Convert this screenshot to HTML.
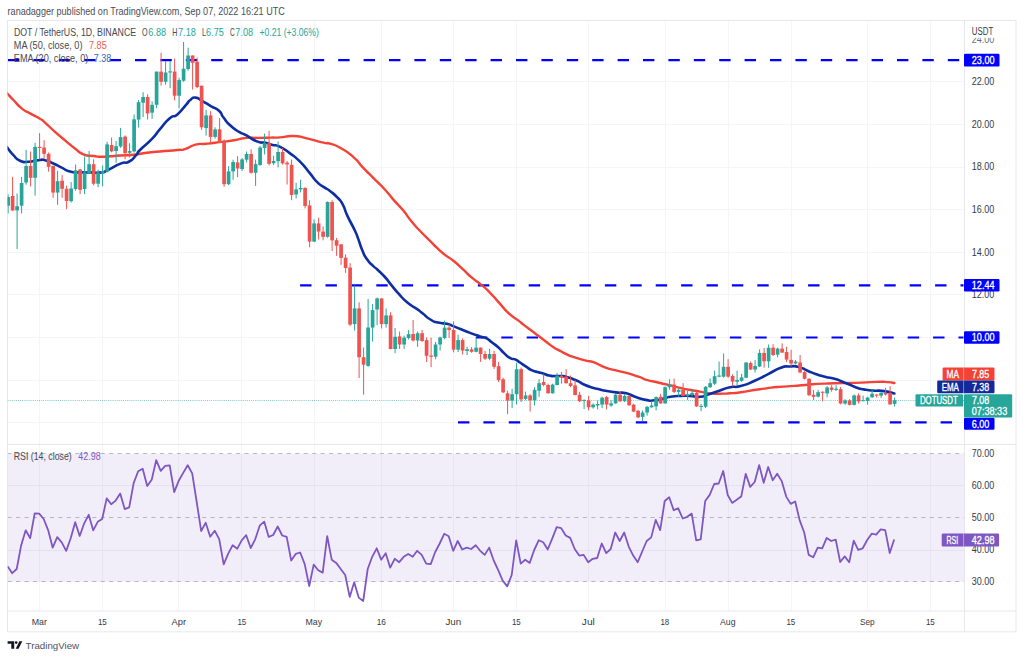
<!DOCTYPE html>
<html><head><meta charset="utf-8"><title>DOT/USDT chart</title>
<style>
html,body{margin:0;padding:0;background:#fff;}
body{width:1024px;height:659px;position:relative;overflow:hidden;font-family:"Liberation Sans",sans-serif;}
</style></head><body>
<svg width="1024" height="659" viewBox="0 0 1024 659" style="position:absolute;left:0;top:0">
<defs><clipPath id="main"><rect x="7.5" y="21" width="956.5" height="422.5"/></clipPath><clipPath id="rsi"><rect x="7.5" y="444.5" width="956.5" height="166"/></clipPath></defs>
<line x1="7.5" y1="81.5" x2="964.5" y2="81.5" stroke="#f4f5f8" stroke-width="1"/>
<line x1="7.5" y1="124.5" x2="964.5" y2="124.5" stroke="#f4f5f8" stroke-width="1"/>
<line x1="7.5" y1="167.5" x2="964.5" y2="167.5" stroke="#f4f5f8" stroke-width="1"/>
<line x1="7.5" y1="209.5" x2="964.5" y2="209.5" stroke="#f4f5f8" stroke-width="1"/>
<line x1="7.5" y1="252.5" x2="964.5" y2="252.5" stroke="#f4f5f8" stroke-width="1"/>
<line x1="7.5" y1="294.5" x2="964.5" y2="294.5" stroke="#f4f5f8" stroke-width="1"/>
<line x1="7.5" y1="337.5" x2="964.5" y2="337.5" stroke="#f4f5f8" stroke-width="1"/>
<line x1="7.5" y1="380.5" x2="964.5" y2="380.5" stroke="#f4f5f8" stroke-width="1"/>
<line x1="7.5" y1="422.5" x2="964.5" y2="422.5" stroke="#f4f5f8" stroke-width="1"/>
<line x1="39.5" y1="20.5" x2="39.5" y2="444" stroke="#f4f5f8" stroke-width="1"/>
<line x1="39.5" y1="444" x2="39.5" y2="610.5" stroke="#f4f5f8" stroke-width="1"/>
<line x1="102.5" y1="20.5" x2="102.5" y2="444" stroke="#f4f5f8" stroke-width="1"/>
<line x1="102.5" y1="444" x2="102.5" y2="610.5" stroke="#f4f5f8" stroke-width="1"/>
<line x1="178.5" y1="20.5" x2="178.5" y2="444" stroke="#f4f5f8" stroke-width="1"/>
<line x1="178.5" y1="444" x2="178.5" y2="610.5" stroke="#f4f5f8" stroke-width="1"/>
<line x1="241.5" y1="20.5" x2="241.5" y2="444" stroke="#f4f5f8" stroke-width="1"/>
<line x1="241.5" y1="444" x2="241.5" y2="610.5" stroke="#f4f5f8" stroke-width="1"/>
<line x1="314.5" y1="20.5" x2="314.5" y2="444" stroke="#f4f5f8" stroke-width="1"/>
<line x1="314.5" y1="444" x2="314.5" y2="610.5" stroke="#f4f5f8" stroke-width="1"/>
<line x1="381.5" y1="20.5" x2="381.5" y2="444" stroke="#f4f5f8" stroke-width="1"/>
<line x1="381.5" y1="444" x2="381.5" y2="610.5" stroke="#f4f5f8" stroke-width="1"/>
<line x1="453.5" y1="20.5" x2="453.5" y2="444" stroke="#f4f5f8" stroke-width="1"/>
<line x1="453.5" y1="444" x2="453.5" y2="610.5" stroke="#f4f5f8" stroke-width="1"/>
<line x1="516.5" y1="20.5" x2="516.5" y2="444" stroke="#f4f5f8" stroke-width="1"/>
<line x1="516.5" y1="444" x2="516.5" y2="610.5" stroke="#f4f5f8" stroke-width="1"/>
<line x1="588.5" y1="20.5" x2="588.5" y2="444" stroke="#f4f5f8" stroke-width="1"/>
<line x1="588.5" y1="444" x2="588.5" y2="610.5" stroke="#f4f5f8" stroke-width="1"/>
<line x1="665.5" y1="20.5" x2="665.5" y2="444" stroke="#f4f5f8" stroke-width="1"/>
<line x1="665.5" y1="444" x2="665.5" y2="610.5" stroke="#f4f5f8" stroke-width="1"/>
<line x1="728.5" y1="20.5" x2="728.5" y2="444" stroke="#f4f5f8" stroke-width="1"/>
<line x1="728.5" y1="444" x2="728.5" y2="610.5" stroke="#f4f5f8" stroke-width="1"/>
<line x1="791.5" y1="20.5" x2="791.5" y2="444" stroke="#f4f5f8" stroke-width="1"/>
<line x1="791.5" y1="444" x2="791.5" y2="610.5" stroke="#f4f5f8" stroke-width="1"/>
<line x1="867.5" y1="20.5" x2="867.5" y2="444" stroke="#f4f5f8" stroke-width="1"/>
<line x1="867.5" y1="444" x2="867.5" y2="610.5" stroke="#f4f5f8" stroke-width="1"/>
<line x1="930.5" y1="20.5" x2="930.5" y2="444" stroke="#f4f5f8" stroke-width="1"/>
<line x1="930.5" y1="444" x2="930.5" y2="610.5" stroke="#f4f5f8" stroke-width="1"/>
<rect x="7.5" y="453.69999999999993" width="957.0" height="128.10000000000002" fill="#7e57c2" fill-opacity="0.1"/>
<line x1="7.5" y1="485.5" x2="964.5" y2="485.5" stroke="#e6e1f0" stroke-width="1"/>
<line x1="7.5" y1="550.5" x2="964.5" y2="550.5" stroke="#e6e1f0" stroke-width="1"/>
<line x1="7.6" y1="453.5" x2="964.5" y2="453.5" stroke="#787b86" stroke-width="1" stroke-dasharray="4.1 4.36" stroke-opacity="0.5"/>
<line x1="7.6" y1="517.5" x2="964.5" y2="517.5" stroke="#787b86" stroke-width="1" stroke-dasharray="4.1 4.36" stroke-opacity="0.5"/>
<line x1="7.6" y1="581.5" x2="964.5" y2="581.5" stroke="#787b86" stroke-width="1" stroke-dasharray="4.1 4.36" stroke-opacity="0.5"/>
<rect x="7.5" y="20.5" width="1008.5" height="611.3" fill="none" stroke="#e6e8ee" stroke-width="1"/>
<line x1="964.5" y1="20.5" x2="964.5" y2="631.8" stroke="#e6e8ee" stroke-width="1"/>
<line x1="7.5" y1="444.5" x2="1016" y2="444.5" stroke="#e6e8ee" stroke-width="1"/>
<line x1="7.5" y1="611.0" x2="1016" y2="611.0" stroke="#e6e8ee" stroke-width="1"/>
<g clip-path="url(#main)">
<line x1="7.5" y1="400.5" x2="964.5" y2="400.5" stroke="#26a69a" stroke-width="1" stroke-dasharray="1 1.1" stroke-opacity="0.6"/>
<line x1="8" y1="60.2" x2="963.5" y2="60.2" stroke="#0000ff" stroke-width="2.2" stroke-dasharray="11.4 14"/>
<line x1="300.1" y1="285.3" x2="963.5" y2="285.3" stroke="#0000ff" stroke-width="2.2" stroke-dasharray="11.4 14"/>
<line x1="475.9" y1="337.5" x2="963.5" y2="337.5" stroke="#0000ff" stroke-width="2.2" stroke-dasharray="11.4 14"/>
<line x1="458" y1="422.4" x2="963.5" y2="422.4" stroke="#0000ff" stroke-width="2.2" stroke-dasharray="11.4 14"/>
<path d="M7.0,93.0 C7.3,93.4 5.9,91.9 8.0,94.2 C10.1,96.5 8.8,95.3 13.4,100.0 C18.0,104.7 16.2,103.9 21.7,108.4 C27.2,112.9 23.9,109.9 30.0,113.4 C36.1,116.9 35.0,115.7 40.0,118.8 C45.0,121.9 40.0,118.3 45.0,122.6 C50.0,126.9 47.7,125.4 55.0,131.8 C62.3,138.2 60.1,136.2 66.8,141.8 C73.5,147.4 69.4,144.3 75.0,148.5 C80.6,152.7 77.3,151.8 83.5,154.3 C89.7,156.8 87.4,155.2 93.5,156.0 C99.6,156.8 96.3,156.7 101.8,156.8 C107.3,156.9 103.9,156.7 110.0,156.3 C116.1,155.9 112.1,156.0 120.0,155.5 C127.9,155.0 124.6,155.7 133.6,154.8 C142.6,153.9 138.2,153.8 147.0,152.7 C155.8,151.6 149.9,152.4 160.0,151.5 C170.1,150.6 169.1,150.8 177.4,150.0 C185.7,149.2 179.0,150.9 185.0,149.1 C191.0,147.3 188.5,146.5 195.5,144.7 C202.5,142.9 197.9,144.7 206.0,143.8 C214.1,142.9 210.6,143.3 219.9,142.1 C229.2,140.9 225.1,141.7 233.9,140.3 C242.7,138.9 238.2,138.7 246.4,137.9 C254.6,137.1 250.5,138.0 258.6,137.9 C266.7,137.8 263.7,137.8 270.8,137.6 C277.9,137.4 272.5,137.9 280.0,137.4 C287.5,136.9 284.5,135.7 293.4,136.0 C302.3,136.3 296.7,136.2 306.7,138.4 C316.7,140.6 315.6,140.9 323.4,142.7 C331.2,144.5 324.2,141.9 330.0,143.7 C335.8,145.5 333.0,143.7 340.9,148.2 C348.8,152.7 346.4,150.9 353.7,157.3 C361.0,163.7 356.1,160.3 362.8,167.3 C369.5,174.3 366.4,171.0 373.7,178.3 C381.0,185.6 377.9,181.9 384.6,189.2 C391.3,196.5 387.7,193.1 393.8,200.1 C399.9,207.1 396.8,202.8 402.9,210.1 C409.0,217.4 405.9,214.7 412.0,222.0 C418.1,229.3 415.1,225.7 421.1,232.0 C427.1,238.3 424.6,235.5 430.0,240.9 C435.4,246.3 432.4,243.6 437.3,248.2 C442.2,252.8 439.1,250.3 444.6,254.6 C450.1,258.9 447.6,256.1 453.7,261.0 C459.8,265.9 456.7,263.6 462.8,269.2 C468.9,274.8 465.8,272.6 471.9,277.7 C478.0,282.8 474.9,279.6 481.0,284.6 C487.1,289.6 484.0,286.7 490.1,292.8 C496.2,298.9 493.1,296.2 499.2,302.9 C505.3,309.6 502.0,307.1 508.3,312.9 C514.6,318.7 513.1,316.4 518.2,320.4 C523.3,324.4 519.4,321.6 523.7,324.9 C528.0,328.2 526.1,326.7 531.0,330.3 C535.9,333.9 533.5,332.2 538.3,335.8 C543.1,339.4 540.7,337.6 545.5,341.2 C550.3,344.8 547.9,343.5 552.8,346.7 C557.7,349.9 555.2,348.3 560.1,350.9 C565.0,353.5 562.5,352.4 567.4,354.6 C572.3,356.8 568.5,355.4 574.7,357.4 C580.9,359.4 580.0,359.1 586.0,360.6 C592.0,362.1 588.1,360.4 592.8,361.9 C597.5,363.4 596.4,363.6 600.0,365.2 C603.6,366.8 599.5,365.3 603.7,366.8 C607.9,368.3 604.9,367.7 612.5,369.7 C620.1,371.7 617.7,370.6 626.4,372.9 C635.1,375.2 631.6,374.3 638.6,376.7 C645.6,379.1 641.6,378.4 647.4,380.2 C653.2,382.0 650.2,380.7 656.1,382.0 C662.0,383.3 660.2,383.1 665.0,384.2 C669.8,385.3 665.2,384.1 670.5,385.4 C675.8,386.7 672.8,386.3 680.9,388.1 C689.0,389.9 687.3,389.3 694.9,390.7 C702.5,392.1 697.8,391.4 703.6,392.4 C709.4,393.4 706.0,393.2 712.4,393.6 C718.8,394.0 716.9,393.7 722.8,393.6 C728.7,393.5 724.0,393.8 730.0,393.3 C736.0,392.8 730.7,393.6 740.7,392.2 C750.7,390.8 747.7,390.9 759.9,389.2 C772.1,387.5 765.7,388.1 777.4,387.0 C789.1,385.9 785.0,386.7 795.0,385.9 C805.0,385.1 797.5,385.5 807.5,384.7 C817.5,383.9 813.3,384.1 824.9,383.6 C836.5,383.1 830.2,383.4 842.4,383.1 C854.6,382.8 849.5,383.0 861.4,382.6 C873.3,382.2 869.1,382.1 878.0,381.9 C886.9,381.7 882.5,381.7 888.0,382.1 C893.5,382.5 892.3,382.7 894.4,383.0" fill="none" stroke="#f44336" stroke-width="2.4" stroke-linejoin="round" stroke-linecap="round"/>
<path d="M7.0,147.0 C7.3,147.5 5.9,145.8 8.0,148.5 C10.1,151.2 9.4,151.1 13.4,155.2 C17.4,159.3 15.0,158.5 20.0,160.7 C25.0,162.9 22.3,162.0 28.4,161.8 C34.5,161.6 32.9,160.7 38.4,160.2 C43.9,159.7 40.0,159.1 45.0,160.2 C50.0,161.3 47.8,161.0 53.4,163.5 C59.0,166.0 56.3,165.0 61.8,167.7 C67.3,170.4 63.8,169.9 70.0,171.5 C76.2,173.1 73.5,172.1 80.5,172.4 C87.5,172.7 84.0,172.4 91.0,172.4 C98.0,172.4 95.6,173.3 101.4,172.4 C107.2,171.5 102.0,172.6 108.4,169.7 C114.8,166.8 113.6,166.3 120.6,163.6 C127.6,160.9 124.1,164.4 129.3,161.5 C134.5,158.6 132.7,158.7 136.3,154.9 C139.9,151.1 135.0,155.1 140.0,150.0 C145.0,144.9 144.5,146.6 151.2,139.7 C157.9,132.8 153.9,136.3 160.0,129.2 C166.1,122.1 163.7,123.3 169.5,118.4 C175.3,113.5 171.9,118.9 177.4,114.4 C182.9,109.9 181.7,109.5 186.0,104.8 C190.3,100.1 187.0,102.6 190.2,100.2 C193.4,97.8 191.4,97.3 195.5,97.6 C199.6,97.9 197.3,98.2 202.5,101.1 C207.7,104.0 205.7,103.1 211.2,106.3 C216.7,109.5 214.9,107.0 219.0,110.7 C223.1,114.4 219.7,112.6 223.5,117.5 C227.3,122.4 225.2,120.7 230.4,125.5 C235.6,130.3 233.8,128.6 239.0,131.8 C244.2,135.0 240.0,131.9 246.0,135.1 C252.0,138.3 250.4,138.8 256.9,141.4 C263.4,144.0 260.4,141.6 265.6,142.8 C270.8,144.0 267.9,143.6 272.6,144.9 C277.3,146.2 273.8,143.8 279.6,146.6 C285.4,149.4 283.2,148.4 290.0,153.4 C296.8,158.4 293.3,155.0 300.0,161.7 C306.7,168.4 304.4,166.7 310.0,173.4 C315.6,180.1 312.3,177.3 316.9,181.9 C321.5,186.5 319.5,184.1 323.9,187.1 C328.3,190.1 325.5,187.6 330.0,191.0 C334.5,194.4 333.0,192.8 337.3,197.4 C341.6,202.0 339.5,198.6 342.8,204.7 C346.1,210.8 343.4,207.2 347.3,215.6 C351.2,224.0 350.9,222.2 354.6,230.0 C358.3,237.8 355.8,232.5 358.3,239.1 C360.8,245.7 359.3,243.1 362.1,249.7 C364.9,256.3 363.1,253.5 366.7,258.8 C370.3,264.1 369.3,262.1 372.8,265.7 C376.3,269.3 373.3,265.7 377.3,269.5 C381.3,273.3 380.3,272.0 384.9,277.0 C389.5,282.0 386.4,279.0 391.0,284.6 C395.6,290.2 393.0,287.6 398.6,293.7 C404.2,299.8 401.6,297.7 407.7,302.8 C413.8,307.9 411.8,305.3 416.8,308.9 C421.8,312.5 418.3,310.0 422.8,313.5 C427.3,317.0 425.3,316.5 430.4,319.5 C435.5,322.5 432.4,321.2 438.0,322.6 C443.6,324.0 442.5,322.8 447.1,323.8 C451.7,324.8 447.3,323.8 451.9,325.6 C456.5,327.4 454.9,326.9 461.0,329.3 C467.1,331.7 463.8,330.5 470.1,332.9 C476.4,335.3 474.7,334.6 480.0,336.4 C485.3,338.2 482.1,336.2 486.1,338.2 C490.1,340.2 488.1,339.5 492.1,342.5 C496.1,345.5 494.1,343.7 498.2,347.3 C502.3,350.9 500.3,349.8 504.3,353.4 C508.3,357.0 506.7,356.2 510.3,358.2 C513.9,360.2 512.0,358.0 515.2,359.4 C518.4,360.8 516.4,360.1 520.0,362.5 C523.6,364.9 522.0,364.1 526.1,366.7 C530.2,369.3 528.1,368.6 532.2,370.4 C536.3,372.2 534.7,371.2 538.3,372.2 C541.9,373.2 539.5,372.3 543.1,373.4 C546.7,374.5 545.2,374.7 549.2,375.6 C553.2,376.5 550.8,375.9 555.2,376.1 C559.6,376.3 558.0,375.6 562.5,376.1 C567.0,376.6 564.5,376.4 568.6,377.6 C572.7,378.8 570.9,378.2 574.7,379.7 C578.5,381.2 577.4,380.8 580.0,382.1 C582.6,383.4 578.7,382.0 582.4,383.7 C586.1,385.4 585.2,385.3 591.1,387.2 C597.0,389.1 595.2,388.3 600.0,389.5 C604.8,390.7 600.2,389.7 605.5,390.7 C610.8,391.7 608.9,391.5 615.9,392.4 C622.9,393.3 620.0,391.8 626.4,393.3 C632.8,394.8 628.7,394.6 635.1,396.8 C641.5,399.0 639.2,398.7 645.6,399.9 C652.0,401.1 647.8,400.9 654.3,400.3 C660.8,399.7 659.6,399.4 665.0,398.2 C670.4,397.0 665.2,397.6 670.5,396.8 C675.8,396.0 674.5,396.2 680.9,395.9 C687.3,395.6 683.3,395.6 689.7,395.9 C696.1,396.2 693.7,397.4 700.1,396.8 C706.5,396.2 702.5,396.2 708.9,394.2 C715.3,392.2 712.3,393.0 719.3,390.7 C726.3,388.4 722.9,388.7 730.0,387.2 C737.1,385.7 732.5,388.2 740.7,386.1 C748.9,384.0 745.4,384.9 754.7,380.8 C764.0,376.7 759.9,378.2 768.6,373.9 C777.3,369.6 773.8,370.3 780.8,367.8 C787.8,365.3 783.6,366.8 789.6,366.5 C795.6,366.2 792.7,365.5 798.7,366.9 C804.7,368.3 801.7,368.3 807.5,370.7 C813.3,373.1 810.4,372.2 816.2,374.2 C822.0,376.2 818.5,375.1 824.9,376.7 C831.3,378.3 829.6,377.4 835.4,379.1 C841.2,380.8 837.2,379.7 842.4,381.7 C847.6,383.7 846.3,383.2 851.1,385.2 C855.9,387.2 852.6,386.3 856.8,387.7 C861.0,389.1 858.4,388.5 863.7,389.4 C869.0,390.3 866.0,389.9 872.8,390.5 C879.6,391.1 876.9,390.1 884.1,391.1 C891.3,392.1 891.0,392.6 894.4,393.4" fill="none" stroke="#0d2fa3" stroke-width="2.6" stroke-linejoin="round" stroke-linecap="round"/>
<line x1="8.10" y1="194.3" x2="8.10" y2="213.5" stroke="#26a69a" stroke-width="1"/>
<rect x="6.25" y="197.0" width="3.7" height="8.7" fill="#26a69a"/>
<line x1="12.60" y1="176.9" x2="12.60" y2="211.0" stroke="#ef5350" stroke-width="1"/>
<rect x="10.75" y="196.0" width="3.7" height="14.4" fill="#ef5350"/>
<line x1="17.10" y1="193.5" x2="17.10" y2="249.0" stroke="#26a69a" stroke-width="1"/>
<rect x="15.25" y="206.2" width="3.7" height="4.2" fill="#26a69a"/>
<line x1="21.60" y1="176.9" x2="21.60" y2="213.5" stroke="#26a69a" stroke-width="1"/>
<rect x="19.75" y="183.0" width="3.7" height="22.7" fill="#26a69a"/>
<line x1="26.10" y1="149.8" x2="26.10" y2="184.7" stroke="#26a69a" stroke-width="1"/>
<rect x="24.25" y="166.0" width="3.7" height="16.5" fill="#26a69a"/>
<line x1="30.60" y1="151.6" x2="30.60" y2="186.5" stroke="#ef5350" stroke-width="1"/>
<rect x="28.75" y="166.0" width="3.7" height="11.8" fill="#ef5350"/>
<line x1="35.10" y1="142.9" x2="35.10" y2="195.7" stroke="#26a69a" stroke-width="1"/>
<rect x="33.25" y="146.9" width="3.7" height="30.9" fill="#26a69a"/>
<line x1="39.60" y1="133.2" x2="39.60" y2="159.4" stroke="#ef5350" stroke-width="1"/>
<rect x="37.75" y="146.9" width="3.7" height="1.1" fill="#ef5350"/>
<line x1="44.10" y1="140.2" x2="44.10" y2="158.6" stroke="#ef5350" stroke-width="1"/>
<rect x="42.25" y="147.6" width="3.7" height="6.2" fill="#ef5350"/>
<line x1="48.60" y1="152.5" x2="48.60" y2="171.6" stroke="#ef5350" stroke-width="1"/>
<rect x="46.75" y="153.8" width="3.7" height="13.0" fill="#ef5350"/>
<line x1="53.10" y1="165.5" x2="53.10" y2="197.8" stroke="#ef5350" stroke-width="1"/>
<rect x="51.25" y="166.0" width="3.7" height="26.6" fill="#ef5350"/>
<line x1="57.60" y1="170.8" x2="57.60" y2="204.8" stroke="#26a69a" stroke-width="1"/>
<rect x="55.75" y="181.2" width="3.7" height="11.4" fill="#26a69a"/>
<line x1="62.10" y1="175.1" x2="62.10" y2="197.8" stroke="#ef5350" stroke-width="1"/>
<rect x="60.25" y="180.7" width="3.7" height="8.1" fill="#ef5350"/>
<line x1="66.60" y1="185.6" x2="66.60" y2="209.2" stroke="#ef5350" stroke-width="1"/>
<rect x="64.75" y="188.8" width="3.7" height="12.2" fill="#ef5350"/>
<line x1="71.10" y1="182.0" x2="71.10" y2="202.5" stroke="#26a69a" stroke-width="1"/>
<rect x="69.25" y="188.5" width="3.7" height="12.7" fill="#26a69a"/>
<line x1="75.60" y1="164.5" x2="75.60" y2="190.7" stroke="#26a69a" stroke-width="1"/>
<rect x="73.75" y="170.3" width="3.7" height="18.7" fill="#26a69a"/>
<line x1="80.10" y1="168.9" x2="80.10" y2="194.2" stroke="#ef5350" stroke-width="1"/>
<rect x="78.25" y="169.4" width="3.7" height="20.4" fill="#ef5350"/>
<line x1="84.60" y1="156.6" x2="84.60" y2="194.2" stroke="#26a69a" stroke-width="1"/>
<rect x="82.75" y="172.4" width="3.7" height="16.6" fill="#26a69a"/>
<line x1="89.10" y1="151.0" x2="89.10" y2="174.0" stroke="#26a69a" stroke-width="1"/>
<rect x="87.25" y="164.2" width="3.7" height="9.0" fill="#26a69a"/>
<line x1="93.60" y1="159.3" x2="93.60" y2="185.4" stroke="#ef5350" stroke-width="1"/>
<rect x="91.75" y="164.2" width="3.7" height="19.5" fill="#ef5350"/>
<line x1="98.10" y1="169.7" x2="98.10" y2="187.2" stroke="#26a69a" stroke-width="1"/>
<rect x="96.25" y="172.4" width="3.7" height="11.3" fill="#26a69a"/>
<line x1="102.60" y1="165.4" x2="102.60" y2="186.3" stroke="#26a69a" stroke-width="1"/>
<rect x="100.75" y="171.1" width="3.7" height="2.1" fill="#26a69a"/>
<line x1="107.10" y1="141.8" x2="107.10" y2="172.4" stroke="#26a69a" stroke-width="1"/>
<rect x="105.25" y="144.4" width="3.7" height="27.1" fill="#26a69a"/>
<line x1="111.60" y1="137.5" x2="111.60" y2="152.3" stroke="#ef5350" stroke-width="1"/>
<rect x="109.75" y="145.0" width="3.7" height="6.4" fill="#ef5350"/>
<line x1="116.10" y1="141.0" x2="116.10" y2="162.8" stroke="#26a69a" stroke-width="1"/>
<rect x="114.25" y="146.2" width="3.7" height="4.8" fill="#26a69a"/>
<line x1="120.60" y1="127.9" x2="120.60" y2="147.9" stroke="#26a69a" stroke-width="1"/>
<rect x="118.75" y="137.1" width="3.7" height="9.4" fill="#26a69a"/>
<line x1="125.10" y1="135.4" x2="125.10" y2="159.3" stroke="#ef5350" stroke-width="1"/>
<rect x="123.25" y="136.6" width="3.7" height="16.6" fill="#ef5350"/>
<line x1="129.60" y1="143.2" x2="129.60" y2="157.5" stroke="#26a69a" stroke-width="1"/>
<rect x="127.75" y="151.0" width="3.7" height="1.8" fill="#26a69a"/>
<line x1="134.10" y1="114.4" x2="134.10" y2="152.5" stroke="#26a69a" stroke-width="1"/>
<rect x="132.25" y="119.3" width="3.7" height="32.1" fill="#26a69a"/>
<line x1="138.60" y1="100.0" x2="138.60" y2="127.5" stroke="#26a69a" stroke-width="1"/>
<rect x="136.75" y="102.2" width="3.7" height="17.4" fill="#26a69a"/>
<line x1="143.10" y1="92.2" x2="143.10" y2="117.0" stroke="#26a69a" stroke-width="1"/>
<rect x="141.25" y="97.0" width="3.7" height="5.7" fill="#26a69a"/>
<line x1="147.60" y1="94.3" x2="147.60" y2="119.6" stroke="#ef5350" stroke-width="1"/>
<rect x="145.75" y="97.0" width="3.7" height="16.5" fill="#ef5350"/>
<line x1="152.10" y1="101.3" x2="152.10" y2="118.8" stroke="#26a69a" stroke-width="1"/>
<rect x="150.25" y="104.8" width="3.7" height="7.9" fill="#26a69a"/>
<line x1="156.60" y1="71.6" x2="156.60" y2="108.3" stroke="#26a69a" stroke-width="1"/>
<rect x="154.75" y="71.6" width="3.7" height="33.2" fill="#26a69a"/>
<line x1="161.10" y1="52.8" x2="161.10" y2="85.6" stroke="#ef5350" stroke-width="1"/>
<rect x="159.25" y="71.6" width="3.7" height="10.2" fill="#ef5350"/>
<line x1="165.60" y1="61.2" x2="165.60" y2="84.7" stroke="#26a69a" stroke-width="1"/>
<rect x="163.75" y="72.5" width="3.7" height="9.3" fill="#26a69a"/>
<line x1="170.10" y1="61.2" x2="170.10" y2="88.2" stroke="#26a69a" stroke-width="1"/>
<rect x="168.25" y="71.3" width="3.7" height="1.2" fill="#26a69a"/>
<line x1="174.60" y1="58.6" x2="174.60" y2="100.4" stroke="#ef5350" stroke-width="1"/>
<rect x="172.75" y="71.6" width="3.7" height="24.1" fill="#ef5350"/>
<line x1="179.10" y1="77.8" x2="179.10" y2="108.3" stroke="#26a69a" stroke-width="1"/>
<rect x="177.25" y="80.0" width="3.7" height="15.7" fill="#26a69a"/>
<line x1="183.60" y1="42.0" x2="183.60" y2="81.8" stroke="#26a69a" stroke-width="1"/>
<rect x="181.75" y="68.7" width="3.7" height="12.0" fill="#26a69a"/>
<line x1="188.10" y1="47.7" x2="188.10" y2="70.6" stroke="#26a69a" stroke-width="1"/>
<rect x="186.25" y="55.5" width="3.7" height="13.5" fill="#26a69a"/>
<line x1="192.60" y1="55.5" x2="192.60" y2="89.5" stroke="#ef5350" stroke-width="1"/>
<rect x="190.75" y="55.5" width="3.7" height="7.3" fill="#ef5350"/>
<line x1="197.10" y1="57.5" x2="197.10" y2="88.0" stroke="#ef5350" stroke-width="1"/>
<rect x="195.25" y="61.8" width="3.7" height="25.3" fill="#ef5350"/>
<line x1="201.60" y1="85.7" x2="201.60" y2="129.9" stroke="#ef5350" stroke-width="1"/>
<rect x="199.75" y="85.7" width="3.7" height="41.6" fill="#ef5350"/>
<line x1="206.10" y1="109.8" x2="206.10" y2="135.6" stroke="#26a69a" stroke-width="1"/>
<rect x="204.25" y="115.4" width="3.7" height="12.7" fill="#26a69a"/>
<line x1="210.60" y1="111.2" x2="210.60" y2="142.1" stroke="#ef5350" stroke-width="1"/>
<rect x="208.75" y="115.4" width="3.7" height="21.5" fill="#ef5350"/>
<line x1="215.10" y1="127.3" x2="215.10" y2="138.6" stroke="#26a69a" stroke-width="1"/>
<rect x="213.25" y="129.4" width="3.7" height="7.5" fill="#26a69a"/>
<line x1="219.60" y1="118.2" x2="219.60" y2="143.1" stroke="#ef5350" stroke-width="1"/>
<rect x="217.75" y="129.3" width="3.7" height="12.9" fill="#ef5350"/>
<line x1="224.10" y1="139.5" x2="224.10" y2="186.8" stroke="#ef5350" stroke-width="1"/>
<rect x="222.25" y="141.4" width="3.7" height="42.8" fill="#ef5350"/>
<line x1="228.60" y1="166.2" x2="228.60" y2="185.0" stroke="#26a69a" stroke-width="1"/>
<rect x="226.75" y="171.4" width="3.7" height="12.8" fill="#26a69a"/>
<line x1="233.10" y1="159.7" x2="233.10" y2="179.8" stroke="#26a69a" stroke-width="1"/>
<rect x="231.25" y="162.0" width="3.7" height="9.4" fill="#26a69a"/>
<line x1="237.60" y1="156.2" x2="237.60" y2="177.2" stroke="#ef5350" stroke-width="1"/>
<rect x="235.75" y="162.4" width="3.7" height="6.1" fill="#ef5350"/>
<line x1="242.10" y1="158.0" x2="242.10" y2="171.0" stroke="#26a69a" stroke-width="1"/>
<rect x="240.25" y="159.4" width="3.7" height="9.6" fill="#26a69a"/>
<line x1="246.60" y1="151.5" x2="246.60" y2="162.4" stroke="#26a69a" stroke-width="1"/>
<rect x="244.75" y="154.0" width="3.7" height="5.7" fill="#26a69a"/>
<line x1="251.10" y1="149.3" x2="251.10" y2="173.7" stroke="#ef5350" stroke-width="1"/>
<rect x="249.25" y="154.0" width="3.7" height="18.8" fill="#ef5350"/>
<line x1="255.60" y1="159.7" x2="255.60" y2="185.9" stroke="#26a69a" stroke-width="1"/>
<rect x="253.75" y="164.1" width="3.7" height="8.7" fill="#26a69a"/>
<line x1="260.10" y1="145.8" x2="260.10" y2="165.8" stroke="#26a69a" stroke-width="1"/>
<rect x="258.25" y="147.5" width="3.7" height="17.5" fill="#26a69a"/>
<line x1="264.60" y1="133.6" x2="264.60" y2="154.5" stroke="#26a69a" stroke-width="1"/>
<rect x="262.75" y="143.2" width="3.7" height="4.8" fill="#26a69a"/>
<line x1="269.10" y1="130.9" x2="269.10" y2="165.5" stroke="#ef5350" stroke-width="1"/>
<rect x="267.25" y="143.2" width="3.7" height="20.6" fill="#ef5350"/>
<line x1="273.60" y1="155.7" x2="273.60" y2="165.0" stroke="#26a69a" stroke-width="1"/>
<rect x="271.75" y="161.0" width="3.7" height="2.2" fill="#26a69a"/>
<line x1="278.10" y1="141.5" x2="278.10" y2="167.3" stroke="#26a69a" stroke-width="1"/>
<rect x="276.25" y="152.0" width="3.7" height="9.2" fill="#26a69a"/>
<line x1="282.60" y1="148.0" x2="282.60" y2="164.7" stroke="#ef5350" stroke-width="1"/>
<rect x="280.75" y="152.0" width="3.7" height="11.4" fill="#ef5350"/>
<line x1="287.10" y1="161.0" x2="287.10" y2="184.5" stroke="#ef5350" stroke-width="1"/>
<rect x="285.25" y="162.7" width="3.7" height="1.7" fill="#ef5350"/>
<line x1="291.60" y1="159.5" x2="291.60" y2="200.2" stroke="#ef5350" stroke-width="1"/>
<rect x="289.75" y="164.8" width="3.7" height="30.2" fill="#ef5350"/>
<line x1="296.10" y1="182.8" x2="296.10" y2="198.5" stroke="#26a69a" stroke-width="1"/>
<rect x="294.25" y="189.4" width="3.7" height="5.1" fill="#26a69a"/>
<line x1="300.60" y1="179.8" x2="300.60" y2="192.4" stroke="#26a69a" stroke-width="1"/>
<rect x="298.75" y="188.0" width="3.7" height="1.4" fill="#26a69a"/>
<line x1="305.10" y1="187.1" x2="305.10" y2="208.4" stroke="#ef5350" stroke-width="1"/>
<rect x="303.25" y="188.0" width="3.7" height="18.0" fill="#ef5350"/>
<line x1="309.60" y1="200.2" x2="309.60" y2="247.3" stroke="#ef5350" stroke-width="1"/>
<rect x="307.75" y="205.4" width="3.7" height="36.2" fill="#ef5350"/>
<line x1="314.10" y1="219.4" x2="314.10" y2="242.1" stroke="#26a69a" stroke-width="1"/>
<rect x="312.25" y="223.4" width="3.7" height="18.2" fill="#26a69a"/>
<line x1="318.60" y1="217.7" x2="318.60" y2="239.5" stroke="#ef5350" stroke-width="1"/>
<rect x="316.75" y="223.4" width="3.7" height="8.2" fill="#ef5350"/>
<line x1="323.10" y1="226.4" x2="323.10" y2="240.3" stroke="#ef5350" stroke-width="1"/>
<rect x="321.25" y="231.6" width="3.7" height="5.3" fill="#ef5350"/>
<line x1="327.60" y1="201.4" x2="327.60" y2="237.7" stroke="#26a69a" stroke-width="1"/>
<rect x="325.75" y="202.0" width="3.7" height="34.9" fill="#26a69a"/>
<line x1="332.10" y1="200.2" x2="332.10" y2="251.0" stroke="#ef5350" stroke-width="1"/>
<rect x="330.25" y="202.0" width="3.7" height="38.4" fill="#ef5350"/>
<line x1="336.60" y1="237.9" x2="336.60" y2="255.8" stroke="#ef5350" stroke-width="1"/>
<rect x="334.75" y="240.2" width="3.7" height="5.5" fill="#ef5350"/>
<line x1="341.10" y1="244.3" x2="341.10" y2="264.9" stroke="#ef5350" stroke-width="1"/>
<rect x="339.25" y="244.3" width="3.7" height="13.6" fill="#ef5350"/>
<line x1="345.60" y1="254.4" x2="345.60" y2="272.8" stroke="#ef5350" stroke-width="1"/>
<rect x="343.75" y="257.6" width="3.7" height="10.4" fill="#ef5350"/>
<line x1="350.10" y1="263.2" x2="350.10" y2="326.0" stroke="#ef5350" stroke-width="1"/>
<rect x="348.25" y="267.5" width="3.7" height="57.1" fill="#ef5350"/>
<line x1="354.60" y1="285.5" x2="354.60" y2="330.5" stroke="#26a69a" stroke-width="1"/>
<rect x="352.75" y="308.4" width="3.7" height="15.7" fill="#26a69a"/>
<line x1="359.10" y1="302.3" x2="359.10" y2="378.1" stroke="#ef5350" stroke-width="1"/>
<rect x="357.25" y="308.4" width="3.7" height="48.8" fill="#ef5350"/>
<line x1="363.60" y1="347.6" x2="363.60" y2="394.7" stroke="#ef5350" stroke-width="1"/>
<rect x="361.75" y="357.2" width="3.7" height="7.5" fill="#ef5350"/>
<line x1="368.10" y1="299.0" x2="368.10" y2="366.8" stroke="#26a69a" stroke-width="1"/>
<rect x="366.25" y="327.5" width="3.7" height="38.4" fill="#26a69a"/>
<line x1="372.60" y1="304.1" x2="372.60" y2="341.6" stroke="#26a69a" stroke-width="1"/>
<rect x="370.75" y="310.1" width="3.7" height="17.5" fill="#26a69a"/>
<line x1="377.10" y1="297.5" x2="377.10" y2="325.0" stroke="#26a69a" stroke-width="1"/>
<rect x="375.25" y="298.4" width="3.7" height="11.1" fill="#26a69a"/>
<line x1="381.60" y1="298.4" x2="381.60" y2="328.5" stroke="#ef5350" stroke-width="1"/>
<rect x="379.75" y="298.4" width="3.7" height="25.7" fill="#ef5350"/>
<line x1="386.10" y1="308.4" x2="386.10" y2="327.6" stroke="#26a69a" stroke-width="1"/>
<rect x="384.25" y="315.4" width="3.7" height="8.7" fill="#26a69a"/>
<line x1="390.60" y1="312.2" x2="390.60" y2="349.3" stroke="#ef5350" stroke-width="1"/>
<rect x="388.75" y="315.4" width="3.7" height="33.6" fill="#ef5350"/>
<line x1="395.10" y1="328.0" x2="395.10" y2="353.2" stroke="#26a69a" stroke-width="1"/>
<rect x="393.25" y="336.8" width="3.7" height="12.2" fill="#26a69a"/>
<line x1="399.60" y1="331.5" x2="399.60" y2="349.0" stroke="#ef5350" stroke-width="1"/>
<rect x="397.75" y="336.4" width="3.7" height="8.1" fill="#ef5350"/>
<line x1="404.10" y1="335.7" x2="404.10" y2="348.9" stroke="#26a69a" stroke-width="1"/>
<rect x="402.25" y="337.7" width="3.7" height="6.8" fill="#26a69a"/>
<line x1="408.60" y1="329.9" x2="408.60" y2="339.5" stroke="#26a69a" stroke-width="1"/>
<rect x="406.75" y="334.2" width="3.7" height="3.8" fill="#26a69a"/>
<line x1="413.10" y1="320.0" x2="413.10" y2="341.5" stroke="#ef5350" stroke-width="1"/>
<rect x="411.25" y="334.0" width="3.7" height="6.5" fill="#ef5350"/>
<line x1="417.60" y1="331.4" x2="417.60" y2="346.8" stroke="#26a69a" stroke-width="1"/>
<rect x="415.75" y="333.2" width="3.7" height="7.3" fill="#26a69a"/>
<line x1="422.10" y1="330.0" x2="422.10" y2="341.9" stroke="#ef5350" stroke-width="1"/>
<rect x="420.25" y="333.2" width="3.7" height="7.8" fill="#ef5350"/>
<line x1="426.60" y1="337.5" x2="426.60" y2="362.0" stroke="#ef5350" stroke-width="1"/>
<rect x="424.75" y="340.1" width="3.7" height="15.7" fill="#ef5350"/>
<line x1="431.10" y1="337.5" x2="431.10" y2="367.2" stroke="#ef5350" stroke-width="1"/>
<rect x="429.25" y="355.5" width="3.7" height="1.2" fill="#ef5350"/>
<line x1="435.60" y1="341.9" x2="435.60" y2="359.3" stroke="#26a69a" stroke-width="1"/>
<rect x="433.75" y="344.5" width="3.7" height="12.2" fill="#26a69a"/>
<line x1="440.10" y1="336.6" x2="440.10" y2="350.6" stroke="#26a69a" stroke-width="1"/>
<rect x="438.25" y="337.5" width="3.7" height="7.0" fill="#26a69a"/>
<line x1="444.60" y1="320.6" x2="444.60" y2="339.3" stroke="#26a69a" stroke-width="1"/>
<rect x="442.75" y="327.6" width="3.7" height="10.4" fill="#26a69a"/>
<line x1="449.10" y1="324.4" x2="449.10" y2="338.0" stroke="#ef5350" stroke-width="1"/>
<rect x="447.25" y="327.6" width="3.7" height="2.4" fill="#ef5350"/>
<line x1="453.60" y1="321.3" x2="453.60" y2="352.4" stroke="#ef5350" stroke-width="1"/>
<rect x="451.75" y="330.0" width="3.7" height="19.7" fill="#ef5350"/>
<line x1="458.10" y1="334.6" x2="458.10" y2="352.0" stroke="#26a69a" stroke-width="1"/>
<rect x="456.25" y="340.1" width="3.7" height="9.6" fill="#26a69a"/>
<line x1="462.60" y1="338.4" x2="462.60" y2="354.5" stroke="#ef5350" stroke-width="1"/>
<rect x="460.75" y="340.1" width="3.7" height="10.5" fill="#ef5350"/>
<line x1="467.10" y1="346.8" x2="467.10" y2="355.0" stroke="#26a69a" stroke-width="1"/>
<rect x="465.25" y="349.2" width="3.7" height="1.8" fill="#26a69a"/>
<line x1="471.60" y1="347.0" x2="471.60" y2="352.8" stroke="#ef5350" stroke-width="1"/>
<rect x="469.75" y="349.3" width="3.7" height="2.5" fill="#ef5350"/>
<line x1="476.10" y1="337.5" x2="476.10" y2="352.3" stroke="#26a69a" stroke-width="1"/>
<rect x="474.25" y="347.6" width="3.7" height="4.2" fill="#26a69a"/>
<line x1="480.60" y1="347.6" x2="480.60" y2="361.9" stroke="#ef5350" stroke-width="1"/>
<rect x="478.75" y="347.6" width="3.7" height="6.4" fill="#ef5350"/>
<line x1="485.10" y1="351.0" x2="485.10" y2="360.1" stroke="#ef5350" stroke-width="1"/>
<rect x="483.25" y="354.0" width="3.7" height="4.7" fill="#ef5350"/>
<line x1="489.60" y1="348.8" x2="489.60" y2="360.1" stroke="#26a69a" stroke-width="1"/>
<rect x="487.75" y="354.0" width="3.7" height="4.7" fill="#26a69a"/>
<line x1="494.10" y1="351.0" x2="494.10" y2="368.9" stroke="#ef5350" stroke-width="1"/>
<rect x="492.25" y="354.0" width="3.7" height="12.8" fill="#ef5350"/>
<line x1="498.60" y1="361.9" x2="498.60" y2="382.0" stroke="#ef5350" stroke-width="1"/>
<rect x="496.75" y="366.2" width="3.7" height="14.0" fill="#ef5350"/>
<line x1="503.10" y1="377.6" x2="503.10" y2="393.0" stroke="#ef5350" stroke-width="1"/>
<rect x="501.25" y="379.3" width="3.7" height="13.1" fill="#ef5350"/>
<line x1="507.60" y1="390.7" x2="507.60" y2="414.2" stroke="#ef5350" stroke-width="1"/>
<rect x="505.75" y="393.3" width="3.7" height="7.3" fill="#ef5350"/>
<line x1="512.10" y1="388.9" x2="512.10" y2="408.1" stroke="#26a69a" stroke-width="1"/>
<rect x="510.25" y="394.2" width="3.7" height="6.4" fill="#26a69a"/>
<line x1="516.60" y1="362.8" x2="516.60" y2="404.6" stroke="#26a69a" stroke-width="1"/>
<rect x="514.75" y="369.2" width="3.7" height="25.0" fill="#26a69a"/>
<line x1="521.10" y1="367.5" x2="521.10" y2="402.0" stroke="#ef5350" stroke-width="1"/>
<rect x="519.25" y="369.2" width="3.7" height="30.2" fill="#ef5350"/>
<line x1="525.60" y1="391.6" x2="525.60" y2="400.3" stroke="#26a69a" stroke-width="1"/>
<rect x="523.75" y="395.4" width="3.7" height="3.5" fill="#26a69a"/>
<line x1="530.10" y1="394.2" x2="530.10" y2="411.6" stroke="#ef5350" stroke-width="1"/>
<rect x="528.25" y="395.4" width="3.7" height="4.9" fill="#ef5350"/>
<line x1="534.60" y1="387.2" x2="534.60" y2="405.5" stroke="#26a69a" stroke-width="1"/>
<rect x="532.75" y="389.8" width="3.7" height="10.5" fill="#26a69a"/>
<line x1="539.10" y1="379.3" x2="539.10" y2="396.8" stroke="#26a69a" stroke-width="1"/>
<rect x="537.25" y="383.2" width="3.7" height="7.5" fill="#26a69a"/>
<line x1="543.60" y1="374.1" x2="543.60" y2="386.3" stroke="#ef5350" stroke-width="1"/>
<rect x="541.75" y="382.0" width="3.7" height="3.0" fill="#ef5350"/>
<line x1="548.10" y1="383.7" x2="548.10" y2="393.6" stroke="#ef5350" stroke-width="1"/>
<rect x="546.25" y="385.0" width="3.7" height="8.3" fill="#ef5350"/>
<line x1="552.60" y1="383.7" x2="552.60" y2="393.6" stroke="#26a69a" stroke-width="1"/>
<rect x="550.75" y="384.6" width="3.7" height="8.7" fill="#26a69a"/>
<line x1="557.10" y1="372.9" x2="557.10" y2="385.4" stroke="#26a69a" stroke-width="1"/>
<rect x="555.25" y="375.8" width="3.7" height="9.2" fill="#26a69a"/>
<line x1="561.60" y1="372.0" x2="561.60" y2="383.7" stroke="#ef5350" stroke-width="1"/>
<rect x="559.75" y="375.8" width="3.7" height="1.8" fill="#ef5350"/>
<line x1="566.10" y1="369.2" x2="566.10" y2="383.7" stroke="#ef5350" stroke-width="1"/>
<rect x="564.25" y="376.7" width="3.7" height="6.5" fill="#ef5350"/>
<line x1="570.60" y1="375.5" x2="570.60" y2="387.2" stroke="#ef5350" stroke-width="1"/>
<rect x="568.75" y="383.2" width="3.7" height="2.8" fill="#ef5350"/>
<line x1="575.10" y1="380.2" x2="575.10" y2="395.4" stroke="#ef5350" stroke-width="1"/>
<rect x="573.25" y="385.4" width="3.7" height="9.6" fill="#ef5350"/>
<line x1="579.60" y1="391.9" x2="579.60" y2="402.0" stroke="#ef5350" stroke-width="1"/>
<rect x="577.75" y="394.7" width="3.7" height="6.5" fill="#ef5350"/>
<line x1="584.10" y1="399.4" x2="584.10" y2="409.0" stroke="#26a69a" stroke-width="1"/>
<rect x="582.25" y="399.9" width="3.7" height="1.0" fill="#26a69a"/>
<line x1="588.60" y1="395.9" x2="588.60" y2="410.4" stroke="#ef5350" stroke-width="1"/>
<rect x="586.75" y="400.3" width="3.7" height="7.0" fill="#ef5350"/>
<line x1="593.10" y1="403.4" x2="593.10" y2="408.7" stroke="#26a69a" stroke-width="1"/>
<rect x="591.25" y="404.6" width="3.7" height="2.7" fill="#26a69a"/>
<line x1="597.60" y1="400.5" x2="597.60" y2="409.4" stroke="#26a69a" stroke-width="1"/>
<rect x="595.75" y="404.0" width="3.7" height="1.5" fill="#26a69a"/>
<line x1="602.10" y1="396.8" x2="602.10" y2="408.1" stroke="#26a69a" stroke-width="1"/>
<rect x="600.25" y="397.7" width="3.7" height="6.9" fill="#26a69a"/>
<line x1="606.60" y1="395.9" x2="606.60" y2="409.4" stroke="#ef5350" stroke-width="1"/>
<rect x="604.75" y="397.1" width="3.7" height="7.5" fill="#ef5350"/>
<line x1="611.10" y1="400.3" x2="611.10" y2="406.9" stroke="#26a69a" stroke-width="1"/>
<rect x="609.25" y="403.4" width="3.7" height="2.1" fill="#26a69a"/>
<line x1="615.60" y1="394.2" x2="615.60" y2="403.8" stroke="#26a69a" stroke-width="1"/>
<rect x="613.75" y="394.7" width="3.7" height="8.7" fill="#26a69a"/>
<line x1="620.10" y1="391.6" x2="620.10" y2="402.0" stroke="#ef5350" stroke-width="1"/>
<rect x="618.25" y="394.7" width="3.7" height="6.5" fill="#ef5350"/>
<line x1="624.60" y1="394.2" x2="624.60" y2="402.0" stroke="#26a69a" stroke-width="1"/>
<rect x="622.75" y="395.9" width="3.7" height="5.3" fill="#26a69a"/>
<line x1="629.10" y1="395.0" x2="629.10" y2="405.9" stroke="#ef5350" stroke-width="1"/>
<rect x="627.25" y="395.9" width="3.7" height="9.3" fill="#ef5350"/>
<line x1="633.60" y1="403.8" x2="633.60" y2="412.1" stroke="#ef5350" stroke-width="1"/>
<rect x="631.75" y="404.6" width="3.7" height="7.0" fill="#ef5350"/>
<line x1="638.10" y1="409.9" x2="638.10" y2="418.1" stroke="#ef5350" stroke-width="1"/>
<rect x="636.25" y="410.8" width="3.7" height="6.6" fill="#ef5350"/>
<line x1="642.60" y1="410.4" x2="642.60" y2="421.2" stroke="#26a69a" stroke-width="1"/>
<rect x="640.75" y="412.5" width="3.7" height="4.4" fill="#26a69a"/>
<line x1="647.10" y1="405.9" x2="647.10" y2="415.6" stroke="#26a69a" stroke-width="1"/>
<rect x="645.25" y="406.9" width="3.7" height="5.6" fill="#26a69a"/>
<line x1="651.60" y1="401.2" x2="651.60" y2="407.6" stroke="#26a69a" stroke-width="1"/>
<rect x="649.75" y="405.5" width="3.7" height="1.8" fill="#26a69a"/>
<line x1="656.10" y1="396.4" x2="656.10" y2="410.4" stroke="#26a69a" stroke-width="1"/>
<rect x="654.25" y="397.1" width="3.7" height="9.3" fill="#26a69a"/>
<line x1="660.60" y1="394.2" x2="660.60" y2="403.8" stroke="#ef5350" stroke-width="1"/>
<rect x="658.75" y="396.8" width="3.7" height="6.6" fill="#ef5350"/>
<line x1="665.10" y1="386.3" x2="665.10" y2="403.8" stroke="#26a69a" stroke-width="1"/>
<rect x="663.25" y="387.2" width="3.7" height="16.2" fill="#26a69a"/>
<line x1="669.60" y1="379.3" x2="669.60" y2="389.8" stroke="#26a69a" stroke-width="1"/>
<rect x="667.75" y="384.6" width="3.7" height="2.6" fill="#26a69a"/>
<line x1="674.10" y1="378.5" x2="674.10" y2="393.0" stroke="#ef5350" stroke-width="1"/>
<rect x="672.25" y="384.6" width="3.7" height="7.3" fill="#ef5350"/>
<line x1="678.60" y1="388.9" x2="678.60" y2="396.8" stroke="#26a69a" stroke-width="1"/>
<rect x="676.75" y="389.8" width="3.7" height="2.1" fill="#26a69a"/>
<line x1="683.10" y1="383.2" x2="683.10" y2="396.4" stroke="#ef5350" stroke-width="1"/>
<rect x="681.25" y="389.8" width="3.7" height="6.1" fill="#ef5350"/>
<line x1="687.60" y1="390.7" x2="687.60" y2="399.9" stroke="#26a69a" stroke-width="1"/>
<rect x="685.75" y="394.7" width="3.7" height="1.2" fill="#26a69a"/>
<line x1="692.10" y1="389.5" x2="692.10" y2="396.4" stroke="#26a69a" stroke-width="1"/>
<rect x="690.25" y="392.9" width="3.7" height="2.1" fill="#26a69a"/>
<line x1="696.60" y1="391.6" x2="696.60" y2="406.9" stroke="#ef5350" stroke-width="1"/>
<rect x="694.75" y="392.9" width="3.7" height="13.5" fill="#ef5350"/>
<line x1="701.10" y1="403.8" x2="701.10" y2="411.1" stroke="#26a69a" stroke-width="1"/>
<rect x="699.25" y="405.9" width="3.7" height="1.0" fill="#26a69a"/>
<line x1="705.60" y1="386.0" x2="705.60" y2="408.1" stroke="#26a69a" stroke-width="1"/>
<rect x="703.75" y="386.8" width="3.7" height="19.9" fill="#26a69a"/>
<line x1="710.10" y1="378.5" x2="710.10" y2="388.0" stroke="#26a69a" stroke-width="1"/>
<rect x="708.25" y="383.2" width="3.7" height="4.0" fill="#26a69a"/>
<line x1="714.60" y1="370.6" x2="714.60" y2="384.9" stroke="#26a69a" stroke-width="1"/>
<rect x="712.75" y="376.2" width="3.7" height="7.5" fill="#26a69a"/>
<line x1="719.10" y1="361.5" x2="719.10" y2="377.2" stroke="#26a69a" stroke-width="1"/>
<rect x="717.25" y="375.5" width="3.7" height="1.2" fill="#26a69a"/>
<line x1="723.60" y1="353.5" x2="723.60" y2="377.6" stroke="#26a69a" stroke-width="1"/>
<rect x="721.75" y="366.8" width="3.7" height="9.9" fill="#26a69a"/>
<line x1="728.10" y1="359.2" x2="728.10" y2="377.9" stroke="#ef5350" stroke-width="1"/>
<rect x="726.25" y="366.8" width="3.7" height="9.8" fill="#ef5350"/>
<line x1="732.60" y1="374.2" x2="732.60" y2="386.4" stroke="#ef5350" stroke-width="1"/>
<rect x="730.75" y="376.0" width="3.7" height="5.7" fill="#ef5350"/>
<line x1="737.10" y1="370.7" x2="737.10" y2="386.1" stroke="#26a69a" stroke-width="1"/>
<rect x="735.25" y="380.0" width="3.7" height="1.7" fill="#26a69a"/>
<line x1="741.60" y1="373.9" x2="741.60" y2="381.7" stroke="#26a69a" stroke-width="1"/>
<rect x="739.75" y="377.4" width="3.7" height="3.4" fill="#26a69a"/>
<line x1="746.10" y1="362.0" x2="746.10" y2="378.2" stroke="#26a69a" stroke-width="1"/>
<rect x="744.25" y="362.5" width="3.7" height="15.2" fill="#26a69a"/>
<line x1="750.60" y1="361.6" x2="750.60" y2="370.0" stroke="#ef5350" stroke-width="1"/>
<rect x="748.75" y="363.0" width="3.7" height="6.5" fill="#ef5350"/>
<line x1="755.10" y1="359.9" x2="755.10" y2="372.5" stroke="#26a69a" stroke-width="1"/>
<rect x="753.25" y="366.0" width="3.7" height="3.5" fill="#26a69a"/>
<line x1="759.60" y1="349.4" x2="759.60" y2="367.2" stroke="#26a69a" stroke-width="1"/>
<rect x="757.75" y="352.9" width="3.7" height="13.6" fill="#26a69a"/>
<line x1="764.10" y1="348.0" x2="764.10" y2="367.8" stroke="#ef5350" stroke-width="1"/>
<rect x="762.25" y="352.9" width="3.7" height="8.4" fill="#ef5350"/>
<line x1="768.60" y1="344.5" x2="768.60" y2="367.8" stroke="#26a69a" stroke-width="1"/>
<rect x="766.75" y="347.7" width="3.7" height="13.6" fill="#26a69a"/>
<line x1="773.10" y1="344.2" x2="773.10" y2="356.1" stroke="#ef5350" stroke-width="1"/>
<rect x="771.25" y="347.7" width="3.7" height="7.3" fill="#ef5350"/>
<line x1="777.60" y1="347.7" x2="777.60" y2="357.3" stroke="#26a69a" stroke-width="1"/>
<rect x="775.75" y="348.6" width="3.7" height="6.1" fill="#26a69a"/>
<line x1="782.10" y1="343.3" x2="782.10" y2="352.9" stroke="#ef5350" stroke-width="1"/>
<rect x="780.25" y="348.6" width="3.7" height="4.0" fill="#ef5350"/>
<line x1="786.60" y1="346.8" x2="786.60" y2="362.0" stroke="#ef5350" stroke-width="1"/>
<rect x="784.75" y="352.0" width="3.7" height="7.6" fill="#ef5350"/>
<line x1="791.10" y1="349.8" x2="791.10" y2="366.5" stroke="#ef5350" stroke-width="1"/>
<rect x="789.25" y="359.9" width="3.7" height="3.6" fill="#ef5350"/>
<line x1="795.60" y1="359.9" x2="795.60" y2="364.3" stroke="#26a69a" stroke-width="1"/>
<rect x="793.75" y="361.6" width="3.7" height="1.8" fill="#26a69a"/>
<line x1="800.10" y1="355.0" x2="800.10" y2="373.0" stroke="#ef5350" stroke-width="1"/>
<rect x="798.25" y="362.5" width="3.7" height="10.0" fill="#ef5350"/>
<line x1="804.60" y1="371.2" x2="804.60" y2="379.5" stroke="#ef5350" stroke-width="1"/>
<rect x="802.75" y="372.1" width="3.7" height="6.7" fill="#ef5350"/>
<line x1="809.10" y1="378.2" x2="809.10" y2="396.2" stroke="#ef5350" stroke-width="1"/>
<rect x="807.25" y="378.8" width="3.7" height="16.4" fill="#ef5350"/>
<line x1="813.60" y1="389.9" x2="813.60" y2="400.0" stroke="#ef5350" stroke-width="1"/>
<rect x="811.75" y="394.8" width="3.7" height="2.1" fill="#ef5350"/>
<line x1="818.10" y1="389.9" x2="818.10" y2="397.4" stroke="#26a69a" stroke-width="1"/>
<rect x="816.25" y="392.2" width="3.7" height="4.4" fill="#26a69a"/>
<line x1="822.60" y1="391.3" x2="822.60" y2="401.4" stroke="#ef5350" stroke-width="1"/>
<rect x="820.75" y="391.8" width="3.7" height="1.0" fill="#ef5350"/>
<line x1="827.10" y1="386.0" x2="827.10" y2="397.4" stroke="#26a69a" stroke-width="1"/>
<rect x="825.25" y="387.5" width="3.7" height="5.9" fill="#26a69a"/>
<line x1="831.60" y1="385.2" x2="831.60" y2="391.7" stroke="#ef5350" stroke-width="1"/>
<rect x="829.75" y="387.5" width="3.7" height="2.4" fill="#ef5350"/>
<line x1="836.10" y1="385.2" x2="836.10" y2="391.0" stroke="#26a69a" stroke-width="1"/>
<rect x="834.25" y="388.7" width="3.7" height="1.2" fill="#26a69a"/>
<line x1="840.60" y1="387.0" x2="840.60" y2="404.4" stroke="#ef5350" stroke-width="1"/>
<rect x="838.75" y="389.2" width="3.7" height="14.3" fill="#ef5350"/>
<line x1="845.10" y1="399.2" x2="845.10" y2="404.9" stroke="#26a69a" stroke-width="1"/>
<rect x="843.25" y="400.4" width="3.7" height="3.1" fill="#26a69a"/>
<line x1="849.60" y1="399.2" x2="849.60" y2="405.3" stroke="#ef5350" stroke-width="1"/>
<rect x="847.75" y="400.4" width="3.7" height="4.5" fill="#ef5350"/>
<line x1="854.10" y1="394.5" x2="854.10" y2="405.5" stroke="#26a69a" stroke-width="1"/>
<rect x="852.25" y="395.4" width="3.7" height="9.4" fill="#26a69a"/>
<line x1="858.60" y1="393.4" x2="858.60" y2="403.6" stroke="#ef5350" stroke-width="1"/>
<rect x="856.75" y="395.4" width="3.7" height="6.1" fill="#ef5350"/>
<line x1="863.10" y1="395.6" x2="863.10" y2="401.3" stroke="#26a69a" stroke-width="1"/>
<rect x="861.25" y="400.2" width="3.7" height="1.0" fill="#26a69a"/>
<line x1="867.60" y1="396.8" x2="867.60" y2="404.7" stroke="#26a69a" stroke-width="1"/>
<rect x="865.75" y="397.6" width="3.7" height="3.4" fill="#26a69a"/>
<line x1="872.10" y1="389.4" x2="872.10" y2="397.9" stroke="#26a69a" stroke-width="1"/>
<rect x="870.25" y="393.7" width="3.7" height="3.6" fill="#26a69a"/>
<line x1="876.60" y1="394.5" x2="876.60" y2="397.6" stroke="#ef5350" stroke-width="1"/>
<rect x="874.75" y="394.5" width="3.7" height="1.1" fill="#ef5350"/>
<line x1="881.10" y1="392.6" x2="881.10" y2="397.9" stroke="#26a69a" stroke-width="1"/>
<rect x="879.25" y="392.8" width="3.7" height="2.8" fill="#26a69a"/>
<line x1="885.60" y1="387.7" x2="885.60" y2="395.6" stroke="#ef5350" stroke-width="1"/>
<rect x="883.75" y="392.8" width="3.7" height="1.7" fill="#ef5350"/>
<line x1="890.10" y1="386.2" x2="890.10" y2="404.7" stroke="#ef5350" stroke-width="1"/>
<rect x="888.25" y="393.0" width="3.7" height="11.4" fill="#ef5350"/>
<line x1="894.60" y1="397.6" x2="894.60" y2="406.5" stroke="#26a69a" stroke-width="1"/>
<rect x="892.75" y="400.2" width="3.7" height="3.7" fill="#26a69a"/>
</g>
<g clip-path="url(#rsi)">
<polyline points="7.7,566.4 12.2,573.2 16.7,569.0 21.2,545.2 25.7,530.3 30.2,538.2 34.7,513.3 39.2,513.7 43.7,519.0 48.2,530.3 52.7,547.7 57.2,537.1 61.7,542.4 66.2,550.9 70.7,538.2 75.2,522.2 79.7,536.0 84.2,523.3 88.7,514.8 93.2,530.3 97.7,521.8 102.2,519.0 106.7,498.4 111.2,504.2 115.7,500.6 120.2,493.6 124.7,509.1 129.2,507.4 133.7,482.9 138.2,471.2 142.7,468.7 147.2,486.1 151.7,479.7 156.2,460.2 160.7,470.8 165.2,465.9 169.7,465.3 174.2,492.1 178.7,480.8 183.2,472.9 187.7,465.3 192.2,473.4 196.7,502.0 201.2,531.2 205.7,522.7 210.2,536.7 214.7,530.7 219.2,539.2 223.7,564.3 228.2,553.7 232.7,545.2 237.2,548.8 241.7,540.3 246.2,535.2 250.7,548.0 255.2,539.3 259.7,525.7 264.2,521.6 268.7,536.9 273.2,535.0 277.7,526.5 282.2,535.5 286.7,536.9 291.2,560.5 295.7,553.9 300.2,552.5 304.7,564.1 309.2,586.0 313.7,564.6 318.2,570.2 322.7,572.6 327.2,536.2 331.7,559.7 336.2,562.9 340.7,569.0 345.2,575.0 349.7,596.9 354.2,582.3 358.7,597.6 363.2,601.0 367.7,569.0 372.2,556.8 376.7,548.3 381.2,559.7 385.7,553.2 390.2,567.7 394.7,558.8 399.2,562.2 403.7,556.8 408.2,553.9 412.7,556.8 417.2,550.8 421.7,554.9 426.2,563.6 430.7,564.1 435.2,552.0 439.7,543.5 444.2,533.8 448.7,536.2 453.2,550.8 457.7,541.0 462.2,549.5 466.7,547.6 471.2,549.0 475.7,545.2 480.2,550.8 484.7,554.9 489.2,547.6 493.7,560.5 498.2,570.2 502.7,580.6 507.2,586.4 511.7,575.0 516.2,540.3 520.7,563.6 525.2,559.7 529.7,562.9 534.2,550.0 538.7,540.3 543.2,542.3 547.7,549.5 552.2,538.6 556.7,527.2 561.2,528.2 565.7,535.5 570.2,537.9 574.7,549.0 579.2,555.6 583.7,554.9 588.2,562.2 592.7,558.8 597.2,558.0 601.7,543.5 606.2,553.2 610.7,549.0 615.2,532.5 619.7,541.0 624.2,532.5 628.7,546.6 633.2,555.6 637.7,562.2 642.2,551.5 646.7,541.0 651.2,537.4 655.7,519.9 660.2,530.1 664.7,501.0 669.2,497.3 673.7,510.2 678.2,508.3 682.7,518.5 687.2,516.8 691.7,513.6 696.2,540.3 700.7,539.3 705.2,501.0 709.7,494.9 714.2,484.0 718.7,483.5 723.2,471.0 727.7,495.0 732.2,502.9 736.7,499.8 741.2,496.6 745.7,473.8 750.2,486.9 754.7,482.0 759.2,465.1 763.7,482.8 768.2,467.0 772.7,480.3 777.2,473.8 781.7,481.1 786.2,496.6 790.7,503.9 795.2,501.5 799.7,520.4 804.2,532.5 808.7,554.9 813.2,557.3 817.7,547.6 822.2,548.3 826.7,537.9 831.2,541.0 835.7,539.6 840.2,562.0 844.7,556.4 849.2,562.2 853.7,540.7 858.2,549.8 862.7,548.3 867.2,540.0 871.7,533.7 876.2,534.6 880.7,529.4 885.2,530.1 889.7,553.0 894.2,539.5" fill="none" stroke="#7e57c2" stroke-width="1.8" stroke-linejoin="round"/>
</g>
<text x="971.8" y="85.19999999999999" font-family="Liberation Sans, sans-serif" font-size="10" fill="#363a45" text-anchor="start" font-weight="normal" textLength="22.5" lengthAdjust="spacingAndGlyphs" >22.00</text>
<text x="971.8" y="127.80000000000001" font-family="Liberation Sans, sans-serif" font-size="10" fill="#363a45" text-anchor="start" font-weight="normal" textLength="22.5" lengthAdjust="spacingAndGlyphs" >20.00</text>
<text x="971.8" y="170.39999999999998" font-family="Liberation Sans, sans-serif" font-size="10" fill="#363a45" text-anchor="start" font-weight="normal" textLength="22.5" lengthAdjust="spacingAndGlyphs" >18.00</text>
<text x="971.8" y="213.0" font-family="Liberation Sans, sans-serif" font-size="10" fill="#363a45" text-anchor="start" font-weight="normal" textLength="22.5" lengthAdjust="spacingAndGlyphs" >16.00</text>
<text x="971.8" y="255.6" font-family="Liberation Sans, sans-serif" font-size="10" fill="#363a45" text-anchor="start" font-weight="normal" textLength="22.5" lengthAdjust="spacingAndGlyphs" >14.00</text>
<text x="971.8" y="298.2" font-family="Liberation Sans, sans-serif" font-size="10" fill="#363a45" text-anchor="start" font-weight="normal" textLength="22.5" lengthAdjust="spacingAndGlyphs" >12.00</text>
<text x="971.8" y="42.599999999999966" font-family="Liberation Sans, sans-serif" font-size="10" fill="#6a6d78" text-anchor="start" font-weight="normal" textLength="22.5" lengthAdjust="spacingAndGlyphs" >24.00</text>
<rect x="965" y="21" width="50" height="16.8" fill="#ffffff"/>
<text x="971.8" y="34.8" font-family="Liberation Sans, sans-serif" font-size="10" fill="#363a45" text-anchor="start" font-weight="normal" textLength="21.5" lengthAdjust="spacingAndGlyphs" >USDT</text>
<text x="971.8" y="456.99999999999994" font-family="Liberation Sans, sans-serif" font-size="10" fill="#363a45" text-anchor="start" font-weight="normal" textLength="22.5" lengthAdjust="spacingAndGlyphs" >70.00</text>
<text x="971.8" y="489.025" font-family="Liberation Sans, sans-serif" font-size="10" fill="#363a45" text-anchor="start" font-weight="normal" textLength="22.5" lengthAdjust="spacingAndGlyphs" >60.00</text>
<text x="971.8" y="521.05" font-family="Liberation Sans, sans-serif" font-size="10" fill="#363a45" text-anchor="start" font-weight="normal" textLength="22.5" lengthAdjust="spacingAndGlyphs" >50.00</text>
<text x="971.8" y="553.0749999999999" font-family="Liberation Sans, sans-serif" font-size="10" fill="#363a45" text-anchor="start" font-weight="normal" textLength="22.5" lengthAdjust="spacingAndGlyphs" >40.00</text>
<text x="971.8" y="585.0999999999999" font-family="Liberation Sans, sans-serif" font-size="10" fill="#363a45" text-anchor="start" font-weight="normal" textLength="22.5" lengthAdjust="spacingAndGlyphs" >30.00</text>
<text x="39.3" y="624.6" font-family="Liberation Sans, sans-serif" font-size="9.6" fill="#363a45" text-anchor="middle" font-weight="normal" textLength="15.2" lengthAdjust="spacingAndGlyphs" >Mar</text>
<text x="102.3" y="624.6" font-family="Liberation Sans, sans-serif" font-size="9.6" fill="#363a45" text-anchor="middle" font-weight="normal" textLength="8.8" lengthAdjust="spacingAndGlyphs" >15</text>
<text x="178.8" y="624.6" font-family="Liberation Sans, sans-serif" font-size="9.6" fill="#363a45" text-anchor="middle" font-weight="normal" textLength="14.5" lengthAdjust="spacingAndGlyphs" >Apr</text>
<text x="241.8" y="624.6" font-family="Liberation Sans, sans-serif" font-size="9.6" fill="#363a45" text-anchor="middle" font-weight="normal" textLength="8.8" lengthAdjust="spacingAndGlyphs" >15</text>
<text x="313.8" y="624.6" font-family="Liberation Sans, sans-serif" font-size="9.6" fill="#363a45" text-anchor="middle" font-weight="normal" textLength="16.6" lengthAdjust="spacingAndGlyphs" >May</text>
<text x="381.3" y="624.6" font-family="Liberation Sans, sans-serif" font-size="9.6" fill="#363a45" text-anchor="middle" font-weight="normal" textLength="9.2" lengthAdjust="spacingAndGlyphs" >16</text>
<text x="453.3" y="624.6" font-family="Liberation Sans, sans-serif" font-size="9.6" fill="#363a45" text-anchor="middle" font-weight="normal" textLength="15.7" lengthAdjust="spacingAndGlyphs" >Jun</text>
<text x="516.3" y="624.6" font-family="Liberation Sans, sans-serif" font-size="9.6" fill="#363a45" text-anchor="middle" font-weight="normal" textLength="8.8" lengthAdjust="spacingAndGlyphs" >15</text>
<text x="588.3" y="624.6" font-family="Liberation Sans, sans-serif" font-size="9.6" fill="#363a45" text-anchor="middle" font-weight="normal" textLength="12.9" lengthAdjust="spacingAndGlyphs" >Jul</text>
<text x="664.8" y="624.6" font-family="Liberation Sans, sans-serif" font-size="9.6" fill="#363a45" text-anchor="middle" font-weight="normal" textLength="8.8" lengthAdjust="spacingAndGlyphs" >18</text>
<text x="727.8" y="624.6" font-family="Liberation Sans, sans-serif" font-size="9.6" fill="#363a45" text-anchor="middle" font-weight="normal" textLength="15.5" lengthAdjust="spacingAndGlyphs" >Aug</text>
<text x="790.8" y="624.6" font-family="Liberation Sans, sans-serif" font-size="9.6" fill="#363a45" text-anchor="middle" font-weight="normal" textLength="8.8" lengthAdjust="spacingAndGlyphs" >15</text>
<text x="867.3" y="624.6" font-family="Liberation Sans, sans-serif" font-size="9.6" fill="#363a45" text-anchor="middle" font-weight="normal" textLength="14.6" lengthAdjust="spacingAndGlyphs" >Sep</text>
<text x="930.3" y="624.6" font-family="Liberation Sans, sans-serif" font-size="9.6" fill="#363a45" text-anchor="middle" font-weight="normal" textLength="8.8" lengthAdjust="spacingAndGlyphs" >15</text>
<rect x="964" y="53.7" width="35.5" height="12.799999999999997" rx="1.2" fill="#0000ff"/>
<text x="971.8" y="63.8" font-family="Liberation Sans, sans-serif" font-size="10" fill="#fff" text-anchor="start" font-weight="normal" textLength="22.7" lengthAdjust="spacingAndGlyphs" stroke="#fff" stroke-width="0.3">23.00</text>
<rect x="964" y="278.9" width="35.5" height="12.600000000000023" rx="1.2" fill="#0000ff"/>
<text x="971.8" y="288.8" font-family="Liberation Sans, sans-serif" font-size="10" fill="#fff" text-anchor="start" font-weight="normal" textLength="22.7" lengthAdjust="spacingAndGlyphs" stroke="#fff" stroke-width="0.3">12.44</text>
<rect x="964" y="331.2" width="35.5" height="12.600000000000023" rx="1.2" fill="#0000ff"/>
<text x="971.8" y="341.1" font-family="Liberation Sans, sans-serif" font-size="10" fill="#fff" text-anchor="start" font-weight="normal" textLength="22.7" lengthAdjust="spacingAndGlyphs" stroke="#fff" stroke-width="0.3">10.00</text>
<rect x="964" y="417.8" width="30.5" height="12.0" rx="1.2" fill="#0000ff"/>
<text x="971.8" y="427.6" font-family="Liberation Sans, sans-serif" font-size="10" fill="#fff" text-anchor="start" font-weight="normal" textLength="17.6" lengthAdjust="spacingAndGlyphs" stroke="#fff" stroke-width="0.3">6.00</text>
<rect x="942.6" y="367.6" width="51.89999999999998" height="12.799999999999955" rx="1.2" fill="#f44336"/>
<line x1="963.6" y1="367.6" x2="963.6" y2="380.4" stroke="#fff" stroke-opacity="0.55" stroke-width="0.8"/>
<text x="946.5" y="377.7" font-family="Liberation Sans, sans-serif" font-size="10" fill="#fff" text-anchor="start" font-weight="normal" textLength="12.4" lengthAdjust="spacingAndGlyphs" stroke="#fff" stroke-width="0.3">MA</text>
<text x="971.9" y="377.7" font-family="Liberation Sans, sans-serif" font-size="10" fill="#fff" text-anchor="start" font-weight="normal" textLength="17.4" lengthAdjust="spacingAndGlyphs" stroke="#fff" stroke-width="0.3">7.85</text>
<rect x="937.2" y="380.6" width="57.299999999999955" height="12.699999999999989" rx="1.2" fill="#13299b"/>
<line x1="963.6" y1="380.6" x2="963.6" y2="393.3" stroke="#fff" stroke-opacity="0.55" stroke-width="0.8"/>
<text x="941.7" y="390.8" font-family="Liberation Sans, sans-serif" font-size="10" fill="#fff" text-anchor="start" font-weight="normal" textLength="17.2" lengthAdjust="spacingAndGlyphs" stroke="#fff" stroke-width="0.3">EMA</text>
<text x="971.9" y="390.8" font-family="Liberation Sans, sans-serif" font-size="10" fill="#fff" text-anchor="start" font-weight="normal" textLength="17.4" lengthAdjust="spacingAndGlyphs" stroke="#fff" stroke-width="0.3">7.38</text>
<rect x="915.5" y="394.2" width="47.700000000000045" height="12.400000000000034" rx="1.2" fill="#26a69a"/>
<rect x="964" y="394.2" width="48.200000000000045" height="23.30000000000001" rx="1.2" fill="#26a69a"/>
<text x="919.9" y="403.8" font-family="Liberation Sans, sans-serif" font-size="10" fill="#fff" text-anchor="start" font-weight="normal" textLength="37.9" lengthAdjust="spacingAndGlyphs" stroke="#fff" stroke-width="0.3">DOTUSDT</text>
<text x="971.9" y="403.8" font-family="Liberation Sans, sans-serif" font-size="10" fill="#fff" text-anchor="start" font-weight="normal" textLength="17.4" lengthAdjust="spacingAndGlyphs" stroke="#fff" stroke-width="0.3">7.08</text>
<text x="971.8" y="414.6" font-family="Liberation Sans, sans-serif" font-size="10" fill="#fff" text-anchor="start" font-weight="normal" textLength="35.4" lengthAdjust="spacingAndGlyphs" stroke="#fff" stroke-width="0.3">07:38:33</text>
<rect x="941.7" y="533.6" width="57.39999999999998" height="12.899999999999977" rx="1.2" fill="#7e57c2"/>
<line x1="963.6" y1="533.6" x2="963.6" y2="546.5" stroke="#fff" stroke-opacity="0.55" stroke-width="0.8"/>
<text x="946.4" y="543.9" font-family="Liberation Sans, sans-serif" font-size="10" fill="#fff" text-anchor="start" font-weight="normal" textLength="11.7" lengthAdjust="spacingAndGlyphs" stroke="#fff" stroke-width="0.3">RSI</text>
<text x="971.8" y="543.9" font-family="Liberation Sans, sans-serif" font-size="10" fill="#fff" text-anchor="start" font-weight="normal" textLength="22.7" lengthAdjust="spacingAndGlyphs" stroke="#fff" stroke-width="0.3">42.98</text>
<text x="13.9" y="35.5" font-family="Liberation Sans, sans-serif" font-size="10.2" fill="#474a53" text-anchor="start" font-weight="normal" textLength="122.2" lengthAdjust="spacingAndGlyphs" >DOT / TetherUS, 1D, BINANCE</text>
<text x="142.1" y="35.5" font-family="Liberation Sans, sans-serif" font-size="10.2" fill="#474a53" text-anchor="start" font-weight="normal" textLength="5.6" lengthAdjust="spacingAndGlyphs" >O</text>
<text x="148.3" y="35.5" font-family="Liberation Sans, sans-serif" font-size="10.2" fill="#26a69a" text-anchor="start" font-weight="normal" textLength="17.8" lengthAdjust="spacingAndGlyphs" >6.88</text>
<text x="172.3" y="35.5" font-family="Liberation Sans, sans-serif" font-size="10.2" fill="#474a53" text-anchor="start" font-weight="normal" textLength="5.1" lengthAdjust="spacingAndGlyphs" >H</text>
<text x="178" y="35.5" font-family="Liberation Sans, sans-serif" font-size="10.2" fill="#26a69a" text-anchor="start" font-weight="normal" textLength="17.8" lengthAdjust="spacingAndGlyphs" >7.18</text>
<text x="202" y="35.5" font-family="Liberation Sans, sans-serif" font-size="10.2" fill="#474a53" text-anchor="start" font-weight="normal" textLength="4.1" lengthAdjust="spacingAndGlyphs" >L</text>
<text x="206.1" y="35.5" font-family="Liberation Sans, sans-serif" font-size="10.2" fill="#26a69a" text-anchor="start" font-weight="normal" textLength="17.8" lengthAdjust="spacingAndGlyphs" >6.75</text>
<text x="230.1" y="35.5" font-family="Liberation Sans, sans-serif" font-size="10.2" fill="#474a53" text-anchor="start" font-weight="normal" textLength="4.7" lengthAdjust="spacingAndGlyphs" >C</text>
<text x="235.3" y="35.5" font-family="Liberation Sans, sans-serif" font-size="10.2" fill="#26a69a" text-anchor="start" font-weight="normal" textLength="17.8" lengthAdjust="spacingAndGlyphs" >7.08</text>
<text x="259.5" y="35.5" font-family="Liberation Sans, sans-serif" font-size="10.2" fill="#26a69a" text-anchor="start" font-weight="normal" textLength="59.4" lengthAdjust="spacingAndGlyphs" >+0.21 (+3.06%)</text>
<text x="13.8" y="48.6" font-family="Liberation Sans, sans-serif" font-size="10.2" fill="#474a53" text-anchor="start" font-weight="normal" textLength="68.7" lengthAdjust="spacingAndGlyphs" >MA (50, close, 0)</text>
<text x="89" y="48.6" font-family="Liberation Sans, sans-serif" font-size="10.2" fill="#f25550" text-anchor="start" font-weight="normal" textLength="17.7" lengthAdjust="spacingAndGlyphs" >7.85</text>
<text x="13.8" y="61.5" font-family="Liberation Sans, sans-serif" font-size="10.2" fill="#474a53" text-anchor="start" font-weight="normal" textLength="74.5" lengthAdjust="spacingAndGlyphs" >EMA (20, close, 0)</text>
<text x="93.8" y="61.5" font-family="Liberation Sans, sans-serif" font-size="10.2" fill="#4060c0" text-anchor="start" font-weight="normal" textLength="17.5" lengthAdjust="spacingAndGlyphs" >7.38</text>
<text x="13.8" y="459.8" font-family="Liberation Sans, sans-serif" font-size="10.2" fill="#474a53" text-anchor="start" font-weight="normal" textLength="57.9" lengthAdjust="spacingAndGlyphs" >RSI (14, close)</text>
<text x="78.3" y="459.8" font-family="Liberation Sans, sans-serif" font-size="10.2" fill="#7e57c2" text-anchor="start" font-weight="normal" textLength="22.3" lengthAdjust="spacingAndGlyphs" >42.98</text>
<text x="7.6" y="14.8" font-family="Liberation Sans, sans-serif" font-size="10.3" fill="#4a4d57" text-anchor="start" font-weight="normal" textLength="277.2" lengthAdjust="spacingAndGlyphs" >ranadagger published on TradingView.com, Sep 07, 2022 16:21 UTC</text>
<g fill="#131722"><path d="M7.6 641.3 H14.2 V648.8 H11.3 V643.8 H7.6 Z"/><circle cx="16.2" cy="642.6" r="1.35"/><path d="M19.4 641.3 H22.3 L18.6 648.8 H15.7 Z"/></g>
<text x="25.6" y="648.6" font-family="Liberation Sans, sans-serif" font-size="9.6" fill="#50535e" text-anchor="start" font-weight="normal" textLength="53.5" lengthAdjust="spacingAndGlyphs" >TradingView</text>
</svg>
</body></html>
